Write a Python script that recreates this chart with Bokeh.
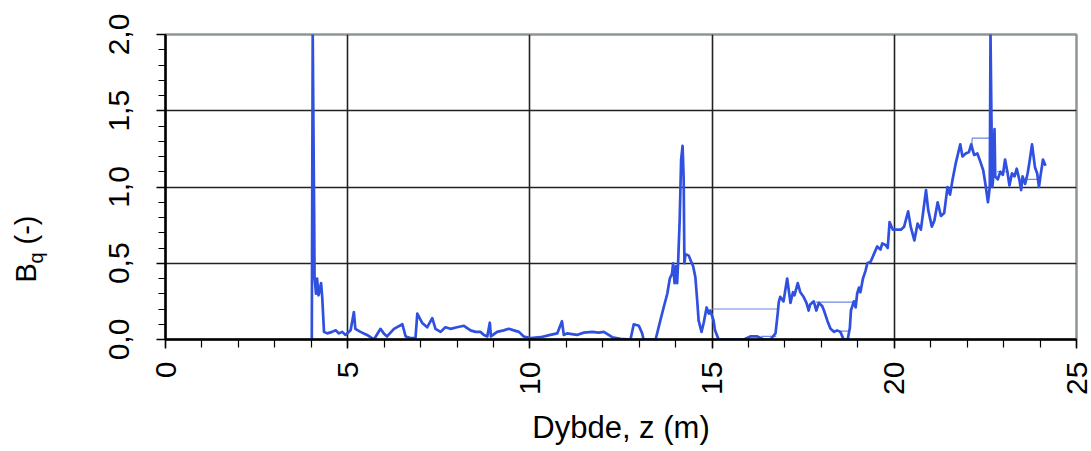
import math

from bokeh.core.properties import value
from bokeh.embed import file_html
from bokeh.layouts import row
from bokeh.models import CustomJSTickFormatter, FixedTicker, Range1d
from bokeh.plotting import figure
from bokeh.resources import INLINE

# --- pore pressure ratio B_q against depth (CPTU sounding) ---
# shallow part, 4-10 m
depth_shallow = [4.015, 4.04, 4.07, 4.08, 4.09, 4.13, 4.16, 4.20, 4.27, 4.30,
                 4.35, 4.44, 4.57, 4.67, 4.76, 4.85, 4.94, 5.08, 5.17, 5.21,
                 5.35, 5.53, 5.72, 5.90, 5.99, 6.08, 6.27, 6.50, 6.59, 6.72,
                 6.86, 6.91, 7.04, 7.18, 7.32, 7.41, 7.55, 7.68, 7.82, 8.00,
                 8.19, 8.37, 8.51, 8.64, 8.74, 8.83, 8.90, 8.93, 9.10, 9.28,
                 9.42, 9.56, 9.70, 9.83, 10.02]
bq_shallow = [0.00, 2.00, 1.08, 0.80, 0.41, 0.30, 0.40, 0.29, 0.37, 0.28,
              0.05, 0.04, 0.05, 0.06, 0.04, 0.05, 0.03, 0.06, 0.18, 0.07,
              0.05, 0.03, 0.00, 0.07, 0.04, 0.02, 0.07, 0.10, 0.02, 0.01,
              0.01, 0.17, 0.11, 0.08, 0.14, 0.07, 0.05, 0.08, 0.07, 0.08,
              0.09, 0.06, 0.05, 0.05, 0.03, 0.02, 0.11, 0.02, 0.05, 0.06,
              0.07, 0.06, 0.05, 0.02, 0.01]

# middle part, 10-20 m
depth_middle = [10.29, 10.56, 10.75, 10.88, 10.93, 11.02, 11.29, 11.48, 11.71, 11.89,
                12.03, 12.26, 12.49, 12.76, 12.85, 12.99, 13.08, 13.12, 13.45, 13.58,
                13.67, 13.77, 13.84, 13.90, 13.93, 13.97, 14.01, 14.04, 14.07, 14.11,
                14.15, 14.19, 14.22, 14.24, 14.27, 14.36, 14.41, 14.48, 14.54, 14.59,
                14.63, 14.71, 14.77, 14.85, 14.91, 14.95, 15.04, 15.08, 15.18, 15.50,
                15.87, 16.05, 16.24, 16.42, 16.60, 16.74, 16.80, 16.83, 16.87, 16.96,
                17.06, 17.10, 17.15, 17.22, 17.26, 17.35, 17.42, 17.51, 17.59, 17.65,
                17.69, 17.79, 17.86, 17.93, 18.02, 18.07, 18.16, 18.25, 18.35, 18.43,
                18.52, 18.61, 18.72, 18.78, 18.81, 18.89, 18.94, 18.98, 19.03, 19.07,
                19.14, 19.21, 19.26, 19.35, 19.44, 19.53, 19.62, 19.67, 19.76, 19.82,
                19.87, 19.96]
bq_middle = [0.015, 0.03, 0.04, 0.12, 0.03, 0.04, 0.03, 0.045, 0.05, 0.045,
             0.05, 0.015, 0.005, 0.00, 0.10, 0.09, 0.04, 0.00, 0.00, 0.125,
             0.21, 0.30, 0.40, 0.43, 0.50, 0.37, 0.48, 0.37, 0.52, 0.78,
             1.18, 1.27, 1.05, 0.50, 0.56, 0.55, 0.52, 0.48, 0.41, 0.26,
             0.125, 0.05, 0.11, 0.21, 0.17, 0.19, 0.125, 0.06, 0.00, 0.00,
             0.00, 0.02, 0.02, 0.00, 0.00, 0.04, 0.17, 0.245, 0.28, 0.25,
             0.40, 0.33, 0.24, 0.31, 0.29, 0.37, 0.31, 0.28, 0.24, 0.19,
             0.23, 0.25, 0.19, 0.24, 0.22, 0.19, 0.125, 0.07, 0.05, 0.06,
             0.05, 0.00, 0.00, 0.075, 0.19, 0.25, 0.21, 0.30, 0.34, 0.31,
             0.40, 0.45, 0.50, 0.51, 0.56, 0.61, 0.59, 0.63, 0.62, 0.60,
             0.77, 0.72]

# deep part, 20-24.2 m
depth_deep = [20.07, 20.18, 20.27, 20.38, 20.45, 20.55, 20.64, 20.73, 20.87, 20.93,
              21.03, 21.10, 21.19, 21.28, 21.37, 21.46, 21.53, 21.60, 21.69, 21.75,
              21.81, 21.87, 21.96, 22.05, 22.11, 22.19, 22.28, 22.37, 22.44, 22.50,
              22.57, 22.62, 22.64, 22.67, 22.69, 22.71, 22.75, 22.77, 22.84, 22.91,
              22.98, 23.04, 23.11, 23.16, 23.23, 23.30, 23.36, 23.43, 23.48, 23.52,
              23.59, 23.66, 23.72, 23.78, 23.86, 23.92, 23.97, 24.01, 24.08, 24.15]
bq_deep = [0.72, 0.72, 0.74, 0.84, 0.74, 0.65, 0.76, 0.72, 0.98, 0.85,
           0.74, 0.78, 0.90, 0.81, 0.83, 1.00, 0.95, 1.05, 1.16, 1.22,
           1.28, 1.20, 1.22, 1.23, 1.28, 1.21, 1.22, 1.16, 1.11, 1.02,
           0.90, 1.00, 2.00, 1.37, 1.00, 1.05, 1.38, 1.07, 1.05, 1.10,
           1.08, 1.18, 1.09, 1.01, 1.09, 1.07, 1.12, 1.05, 0.98, 1.07,
           1.02, 1.09, 1.18, 1.28, 1.13, 1.09, 1.00, 1.07, 1.18, 1.14]

# bridging segments across intervals with missing readings
gap_depth = [[15.00, 16.83], [16.35, 16.76], [17.85, 18.92], [18.35, 18.78],
             [22.11, 22.14, 22.64], [22.82, 23.13], [23.50, 24.00]]
gap_bq = [[0.20, 0.20], [0.02, 0.02], [0.245, 0.245], [0.055, 0.055],
          [1.24, 1.32, 1.32], [1.10, 1.10], [1.05, 1.05]]

x_major = [0, 5, 10, 15, 20, 25]
y_major = [0.0, 0.5, 1.0, 1.5, 2.0]

FONT = "Liberation Sans"
BLUE = "#3050e0"
TITLE_W = 60   # width of the strip holding the rotated y title
H = 451
TOP, BOTTOM = 34, 112

# ---------- main chart ----------
p = figure(width=1091 - TITLE_W, height=H, output_backend="svg", toolbar_location=None,
           x_range=Range1d(0, 25), y_range=Range1d(0, 2.0),
           min_border_left=165 - TITLE_W, min_border_right=15,
           min_border_top=TOP, min_border_bottom=BOTTOM)
p.background_fill_color = "white"
p.border_fill_color = "white"
p.outline_line_color = "#8f9696"
p.outline_line_width = 2.5

# grid
p.xgrid.ticker = FixedTicker(ticks=x_major[1:-1])
p.ygrid.ticker = FixedTicker(ticks=y_major[1:-1])
for g in (p.xgrid, p.ygrid):
    g.grid_line_color = "#222222"
    g.grid_line_width = 1.6

# axes
p.xaxis.ticker = FixedTicker(ticks=x_major, minor_ticks=list(range(0, 26)))
p.yaxis.ticker = FixedTicker(ticks=y_major, minor_ticks=[i / 10 for i in range(21)])
p.yaxis.formatter = CustomJSTickFormatter(code="return tick.toFixed(1).replace('.', ',');")

for ax in (p.xaxis, p.yaxis):
    ax.axis_line_color = "black"
    ax.axis_line_width = 2.5
    ax.major_tick_line_color = "black"
    ax.major_tick_line_width = 1.5
    ax.minor_tick_line_color = "black"
    ax.minor_tick_line_width = 1.2
    ax.major_tick_in = 0
    ax.minor_tick_in = 0
    ax.major_label_text_font = FONT
    ax.major_label_text_font_size = "30px"
    ax.major_label_text_color = "black"

p.xaxis.major_label_orientation = math.pi / 2
p.yaxis.major_label_orientation = "parallel"

p.xaxis.major_tick_out = 9
p.xaxis.minor_tick_out = 8
p.xaxis.major_label_standoff = 13
p.yaxis.major_tick_out = 9
p.yaxis.minor_tick_out = 7
p.yaxis.major_label_standoff = 28

p.xaxis.axis_label = "Dybde, z (m)"
p.xaxis.axis_label_text_font = FONT
p.xaxis.axis_label_text_font_size = "31px"
p.xaxis.axis_label_text_font_style = "normal"
p.xaxis.axis_label_text_color = "black"
p.xaxis.axis_label_standoff = 12

# data
p.multi_line(gap_depth, gap_bq, line_color="#6f86e6", line_width=1.2)
p.line(depth_shallow + depth_middle + depth_deep,
       bq_shallow + bq_middle + bq_deep,
       line_color=BLUE, line_width=2.7, line_join="round")

# ---------- strip with the rotated y title "B_q (-)" ----------
# its frame shares the main chart's top/bottom borders; y is pixels from the page bottom
t = figure(width=TITLE_W, height=H, output_backend="svg", toolbar_location=None,
           x_range=Range1d(0, TITLE_W), y_range=Range1d(BOTTOM, H - TOP),
           x_axis_type=None, y_axis_type=None,
           min_border_left=0, min_border_right=0,
           min_border_top=TOP, min_border_bottom=BOTTOM,
           outline_line_color=None)
t.grid.visible = False
t.background_fill_color = "white"
t.border_fill_color = "white"

title_parts = ["B", "q", "(-)"]
title_x = [25, 35, 25]
title_y = [169, 188, 207]
title_sizes = ["29px", "20px", "29px"]
for txt, tx, ty, fs in zip(title_parts, title_x, title_y, title_sizes):
    t.text(x=[tx], y=[ty], text=[txt], angle=math.pi / 2,
           text_font=value(FONT), text_font_size=fs, text_color="black",
           text_align="left", text_baseline="alphabetic")

layout = row(t, p, spacing=0)
open("out.html", "w").write(file_html(layout, INLINE))
